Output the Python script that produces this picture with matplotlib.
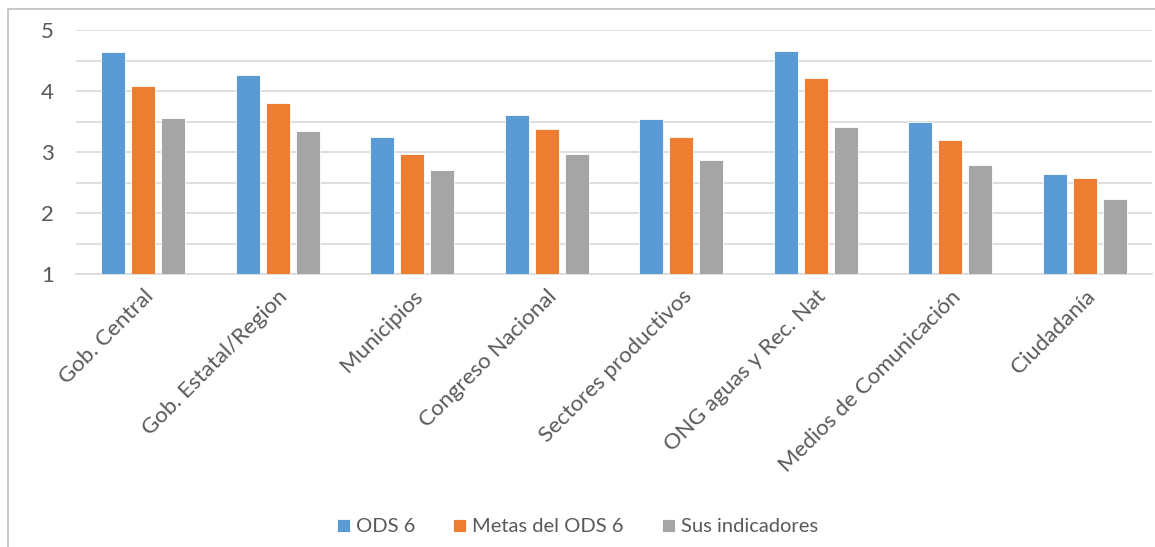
import numpy as np
import matplotlib
matplotlib.use("Agg")
import matplotlib.pyplot as plt
from matplotlib.patches import Rectangle

plt.rcParams['font.family'] = ['Lato', 'DejaVu Sans']

categories = ['Gob. Central', 'Gob. Estatal/Region', 'Municipios', 'Congreso Nacional',
              'Sectores productivos', 'ONG aguas y Rec. Nat', 'Medios de Comunicación',
              'Ciudadanía']
ods6 = [4.64, 4.27, 3.25, 3.60, 3.54, 4.66, 3.50, 2.64]
metas = [4.09, 3.81, 2.97, 3.37, 3.25, 4.22, 3.19, 2.57]
indicadores = [3.55, 3.35, 2.70, 2.97, 2.87, 3.41, 2.79, 2.23]
series_names = ['ODS 6', 'Metas del ODS 6', 'Sus indicadores']
colors = ['#5B9BD5', '#ED7D31', '#A5A5A5']

text_col = '#595959'

fig = plt.figure(figsize=(11.55, 5.47), dpi=100)
ax = fig.add_axes([76/1155, 1 - 274/547, (1152-76)/1155, (274-30)/547])

# chart frame (left/top edges visible)
fig.patches.append(Rectangle((8/1155, -0.05), 1.2, 1 - 9/547 + 0.05,
                             transform=fig.transFigure, fill=False,
                             edgecolor='#bfbfbf', lw=1.2))

x = np.arange(len(categories))
width = 0.175
step = 0.223
for i, (vals, name, c) in enumerate(zip([ods6, metas, indicadores], series_names, colors)):
    ax.bar(x + (i - 1) * step, np.array(vals) - 1, width, bottom=1, color=c,
           edgecolor='white', linewidth=0.6, label=name, zorder=3)

ax.set_xlim(-0.5, len(categories) - 0.5)
ax.set_ylim(1, 5)
ax.set_yticks(np.arange(1, 5.01, 0.5))
ax.set_yticklabels(['1', '', '2', '', '3', '', '4', '', '5'])
ax.yaxis.grid(True, color='#d9d9d9', lw=1.2, zorder=0)
ax.set_axisbelow(True)
for s in ['top', 'right', 'left']:
    ax.spines[s].set_visible(False)
ax.spines['bottom'].set_color('#d9d9d9')
ax.spines['bottom'].set_linewidth(1.2)
ax.tick_params(axis='y', length=0, pad=16, labelsize=16, labelcolor=text_col)
ax.set_xticks(x)
ax.set_xticklabels(categories, rotation=45, ha='right', va='top',
                   rotation_mode='anchor', fontsize=16, color=text_col)
ax.tick_params(axis='x', length=0, pad=9)

leg = fig.legend(loc='center', bbox_to_anchor=(0.5, 1 - 527/547), ncol=3,
                 frameon=False, fontsize=14.5, handlelength=0.65, handleheight=0.65,
                 handletextpad=0.3, columnspacing=1.9)
for t in leg.get_texts():
    t.set_color(text_col)

fig.savefig('out.png', dpi=100, facecolor='white')
